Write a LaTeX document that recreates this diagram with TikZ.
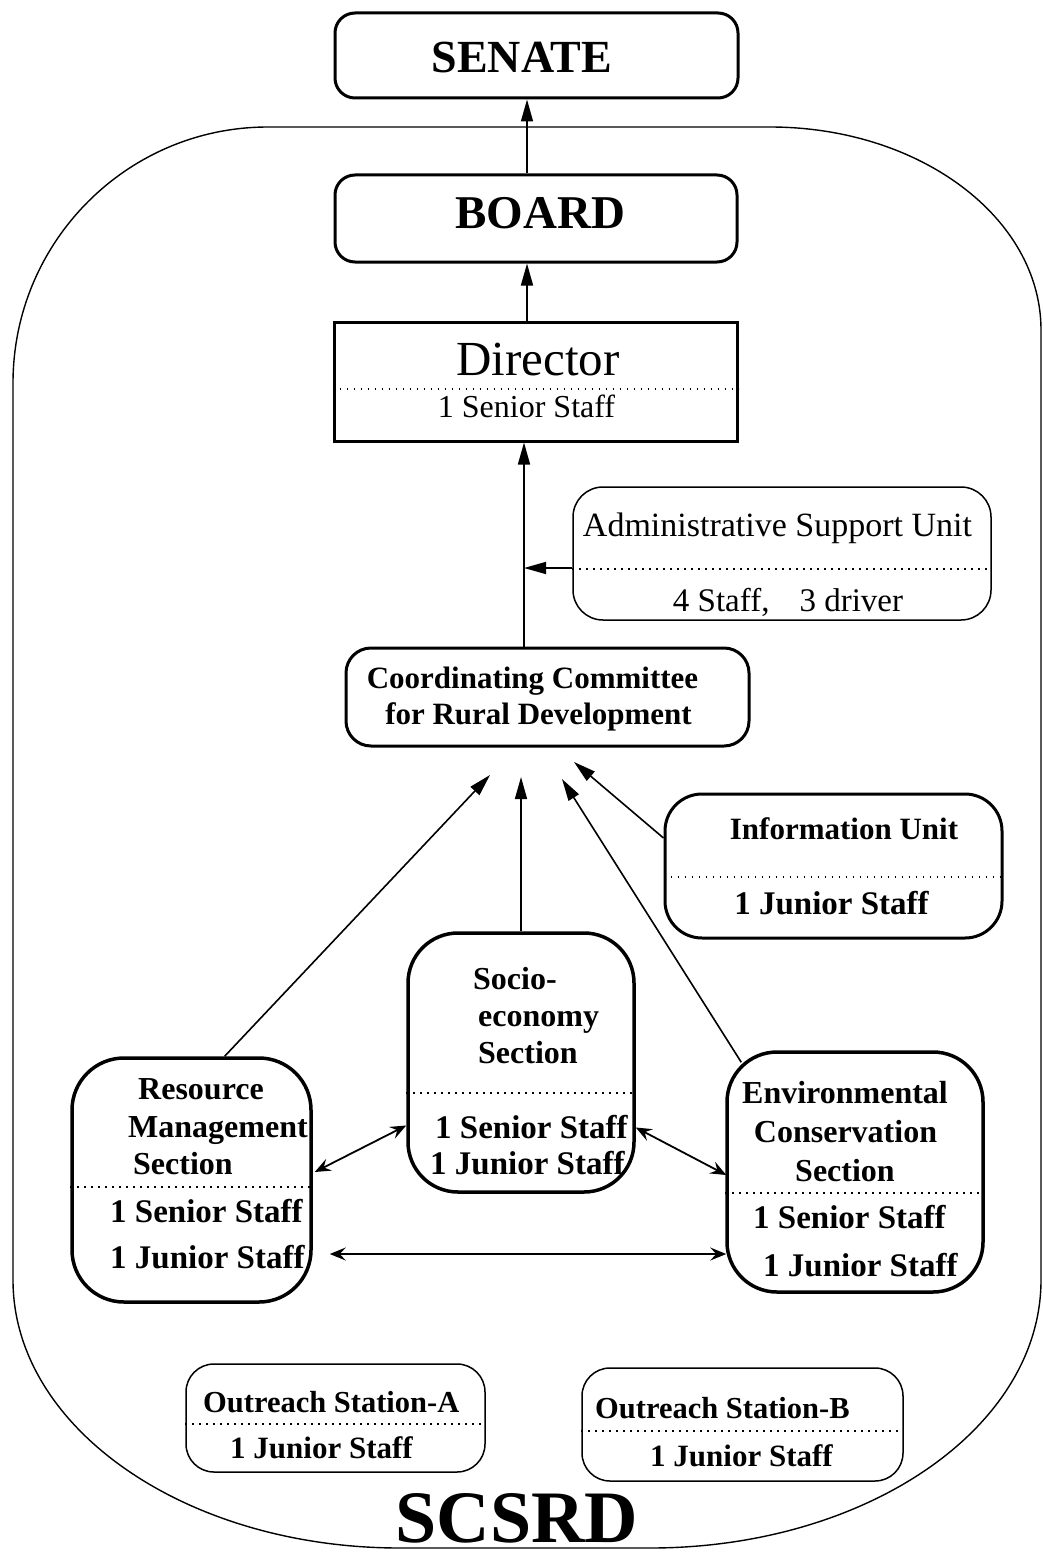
\documentclass[tikz,border=0pt]{standalone}
\usepackage{fontspec}
\setmainfont{Liberation Serif}
\usetikzlibrary{arrows.meta,calc}
\newcommand\fsz[1]{\fontsize{#1pt}{#1pt}\selectfont}
\begin{document}
\begin{tikzpicture}[x=1pt,y=-1pt,
  box/.style={draw, rectangle, line width=3pt, inner sep=0pt},
  thinbox/.style={draw, rectangle, line width=1.5pt, inner sep=0pt},
  lbl/.style={inner sep=0pt, anchor=base},
  lbll/.style={inner sep=0pt, anchor=base west},
  dotrule/.style={line width=1.9pt, dash pattern=on 1.9pt off 5.1pt},
  arr/.style={line width=1.6pt, -{Triangle[length=22pt,width=12pt]}},
  biarr/.style={line width=1.8pt, {Stealth[length=16pt,width=13pt,inset=6pt]}-{Stealth[length=16pt,width=13pt,inset=6pt]}},
]
\useasboundingbox (0,0) rectangle (1043,1557);

% outer frame of the centre
\draw[line width=1.4pt] (268,127) -- (770,127)
  .. controls (920,127) and (1041,218) .. (1041,330) -- (1041,1280)
  .. controls (1041,1428) and (866,1548) .. (650,1548) -- (400,1548)
  .. controls (186,1548) and (13,1428) .. (13,1280) -- (13,383)
  .. controls (13,242) and (127,127) .. (268,127) -- cycle;

% boxes
\node[box, rounded corners=20pt, minimum width=403pt, minimum height=85pt] (senate) at (536.5,55.5) {};
\node[box, rounded corners=20pt, minimum width=402pt, minimum height=87pt] (board) at (536,218.5) {};
\node[box, minimum width=403pt, minimum height=119pt] (director) at (535.5,381.5) {};
\node[thinbox, rounded corners=30pt, minimum width=418pt, minimum height=133pt] (admin) at (782,553.5) {};
\node[box, rounded corners=25pt, minimum width=403pt, minimum height=98pt] (coord) at (547.5,697) {};
\node[box, rounded corners=37pt, minimum width=337pt, minimum height=144pt] (info) at (833.5,866) {};
\node[box, line width=3.5pt, rounded corners=50pt, minimum width=226pt, minimum height=259pt] (socio) at (521,1062.5) {};
\node[box, line width=3.5pt, rounded corners=52pt, minimum width=239pt, minimum height=244pt] (res) at (191.5,1180) {};
\node[box, line width=3.5pt, rounded corners=50pt, minimum width=256pt, minimum height=240pt] (env) at (855,1172) {};
\node[thinbox, rounded corners=28pt, minimum width=299pt, minimum height=108pt] (outA) at (335.5,1418) {};
\node[thinbox, rounded corners=28pt, minimum width=321pt, minimum height=113pt] (outB) at (742.5,1424.5) {};

% dotted separators
\draw[dotrule] (director.west |- 0,389) -- (director.east |- 0,389);
\draw[dotrule] (admin.west |- 0,569) -- (admin.east |- 0,569);
\draw[dotrule] (info.west |- 0,877) -- (info.east |- 0,877);
\draw[dotrule] (socio.west |- 0,1093) -- (socio.east |- 0,1093);
\draw[dotrule] (res.west |- 0,1187) -- (res.east |- 0,1187);
\draw[dotrule] (env.west |- 0,1193) -- (env.east |- 0,1193);
\draw[dotrule] (outA.west |- 0,1424) -- (outA.east |- 0,1424);
\draw[dotrule] (outB.west |- 0,1431) -- (outB.east |- 0,1431);

% texts
\node[lbl, font=\fsz{46}\bfseries] (senateT) at (522,73) {SENATE};
\node[lbl, font=\fsz{47}\bfseries] (boardT) at (540.5,228) {BOARD};
\node[lbl, font=\fsz{49}] (directorT) at (538,375) {Director};
\node[lbl, font=\fsz{32}] (directorS) at (526.5,417) {1 Senior Staff};
\node[lbl, font=\fsz{34}] (adminT) at (777.5,536) {Administrative Support Unit};
\node[lbl, font=\fsz{33}] (adminS) at (788,611) {4 Staff,\hspace{30pt}3 driver};
\node[lbl, font=\fsz{31}\bfseries] (coordA) at (532.5,688) {Coordinating Committee};
\node[lbl, font=\fsz{31}\bfseries] (coordB) at (538.5,724) {for Rural Development};
\node[lbl, font=\fsz{31}\bfseries] (infoT) at (844,839) {Information Unit};
\node[lbl, font=\fsz{33}\bfseries] (infoS) at (831.5,914) {1 Junior Staff};

\node[lbll, font=\fsz{32}\bfseries] (socioA) at (473,989) {Socio-};
\node[lbll, font=\fsz{32}\bfseries] (socioB) at (478,1026) {economy};
\node[lbll, font=\fsz{32}\bfseries] (socioC) at (478,1063) {Section};
\node[lbll, font=\fsz{33}\bfseries] (socioS) at (435,1138) {1 Senior Staff};
\node[lbll, font=\fsz{33}\bfseries] (socioJ) at (430,1174) {1 Junior Staff};

\node[lbll, font=\fsz{32}\bfseries] (resA) at (138,1099) {Resource};
\node[lbll, font=\fsz{32}\bfseries] (resB) at (128,1137) {Management};
\node[lbll, font=\fsz{32}\bfseries] (resC) at (133,1174) {Section};
\node[lbll, font=\fsz{33}\bfseries] (resS) at (110,1222) {1 Senior Staff};
\node[lbll, font=\fsz{33}\bfseries] (resJ) at (110,1268) {1 Junior Staff};

\node[lbl, font=\fsz{32}\bfseries] (envA) at (845,1103) {Environmental};
\node[lbl, font=\fsz{32}\bfseries] (envB) at (845.5,1142) {Conservation};
\node[lbl, font=\fsz{32}\bfseries] (envC) at (845,1181) {Section};
\node[lbll, font=\fsz{33}\bfseries] (envS) at (753,1228) {1 Senior Staff};
\node[lbll, font=\fsz{33}\bfseries] (envJ) at (763,1276) {1 Junior Staff};

\node[lbll, font=\fsz{30.5}\bfseries] (outAT) at (203,1412) {Outreach Station-A};
\node[lbll, font=\fsz{31}\bfseries] (outAS) at (230,1458) {1 Junior Staff};
\node[lbll, font=\fsz{30.5}\bfseries] (outBT) at (595,1418) {Outreach Station-B};
\node[lbll, font=\fsz{31}\bfseries] (outBS) at (650,1466) {1 Junior Staff};

\node[lbl, font=\fsz{74}\bfseries] (scsrd) at (517,1542) {SCSRD};

% connectors
\coordinate (spine) at (527,0);
\coordinate (spineB) at (524,0);
\coordinate (adm) at (524,568);
\coordinate (tR) at (490,775);
\coordinate (tS) at (521,777);
\coordinate (tE) at (562,779);
\coordinate (tI) at (574,762);

\draw[arr] (board.north -| spine) -- (senate.south -| spine);
\draw[arr] (director.north -| spine) -- (board.south -| spine);
\draw[arr] (coord.north -| spineB) -- (director.south -| spineB);
\draw[arr] (admin.west |- adm) -- (adm);

\draw[arr] (res.75) -- (tR);
\draw[arr] (socio.north) -- (tS);
\draw[arr] ($(env.north west)+(16,12)$) -- (tE);
\draw[arr] ($(info.west)+(0,-28)$) -- (tI);

\draw[biarr] ($(res.east)+(2,-8)$) -- ($(socio.west)+(0,63)$);
\draw[biarr] ($(socio.east)+(0,65)$) -- ($(env.west)+(1,3)$);
\draw[biarr] ($(res.east)+(17,74)$) -- ($(env.west)+(1,82)$);
\end{tikzpicture}
\end{document}
